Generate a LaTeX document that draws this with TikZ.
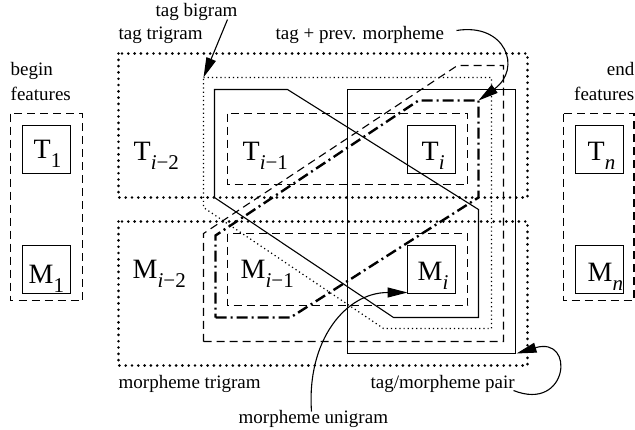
\documentclass[tikz,border=0pt]{standalone}
\usepackage{fontspec}
\setmainfont{Liberation Serif}
\usetikzlibrary{arrows.meta}
\newcommand\vsub[1]{\raisebox{-8.5pt}{\fontsize{21}{21}\selectfont #1}}
\begin{document}
\begin{tikzpicture}[x=1pt,y=-1pt,
  lab/.style={font=\fontsize{19}{21}\selectfont, inner sep=0pt, anchor=base west},
  labr/.style={font=\fontsize{19}{21}\selectfont, inner sep=0pt, anchor=base east},
  var/.style={font=\fontsize{28}{28}\selectfont, inner sep=0pt, anchor=base west},
  vbox/.style={draw, line width=1.1pt, minimum width=48pt, minimum height=48pt, inner sep=0pt},
  bigdot/.style={line width=2.9pt, line cap=round, dash pattern=on 0pt off 6.3pt},
  thindot/.style={line width=1.2pt, dash pattern=on 1.2pt off 3pt},
  dsh/.style={line width=1.1pt, dash pattern=on 8pt off 5pt},
  dshdot/.style={line width=2.4pt, dash pattern=on 11pt off 4pt on 2pt off 4pt},
  sld/.style={line width=1.1pt},
  arr/.style={line width=1.1pt, -{Triangle[length=20pt,width=10pt]}}]
\useasboundingbox (0,0) rectangle (635,429);
\begin{scope}[shift={(0.5,0.5)}]
% feature groups
\draw[dsh] (10,113) rectangle (82,300);
\draw[dsh] (563,113) rectangle (633.5,300);

% trigram boxes
\draw[bigdot] (118,53) rectangle (527,197);
\draw[bigdot] (118,221) rectangle (527,365);

% tag bigram
\draw[thindot] (203,77) -- (491,77) -- (491,328) -- (383,328) -- (203,207) -- cycle;
% solid polygon
\draw[sld] (214,89) -- (287,89) -- (478,209) -- (478,317) -- (393,317) -- (214,197) -- cycle;
% tag/morpheme pair
\draw[sld] (347,89) rectangle (515,353);
% dashed rectangles
\draw[dsh] (227,113) rectangle (467,184);
\draw[dsh] (227,233) rectangle (467,305);
% big dashed polygon
\draw[dsh] (203,341) -- (503,341) -- (503,65) -- (457,65) -- (203,233) -- cycle;
% dash-dot polygon
\draw[dshdot] (215,317) -- (290,317) -- (478,197) -- (478,100) -- (418,100) -- (215,235) -- cycle;

% boxes
\node[vbox] (bT1) at (46,149) {};
\node[vbox] (bM1) at (46,269) {};
\node[vbox] (bTi) at (431,149) {};
\node[vbox] (bMi) at (431,269) {};
\node[vbox] (bTn) at (599,149) {};
\node[vbox] (bMn) at (599,269) {};

% variables
\node[var] (T1) at (33,158) {T\vsub{1}};
\node[var] (M1) at (28,283) {M\vsub{1}};
\node[var] (Ti2) at (133,160) {T\vsub{\textit{i}−2}};
\node[var] (Mi2) at (132,278) {M\vsub{\textit{i}−2}};
\node[var] (Ti1) at (242,160) {T\vsub{\textit{i}−1}};
\node[var] (Mi1) at (240,278) {M\vsub{\textit{i}−1}};
\node[var] (Ti) at (421,160) {T\vsub{\textit{i}}};
\node[var] (Mi) at (417,280) {M\vsub{\textit{i}}};
\node[var] (Tn) at (587,160) {T\vsub{\textit{n}}};
\node[var] (Mn) at (587,281) {M\vsub{\textit{n}}};

% labels
\node[lab] (lbig) at (155,16) {tag bigram};
\node[lab] (ltri) at (118,39) {tag trigram};
\node[lab] (lprev) at (275,39) {tag + prev. morpheme};
\node[lab] (lbeg1) at (10,75) {begin};
\node[lab] (lbeg2) at (10,100) {features};
\node[labr] (lend1) at (634,75) {end};
\node[labr] (lend2) at (634,100) {features};
\node[lab] (lmtri) at (118,388) {morpheme trigram};
\node[lab] (lpair) at (370,388) {tag/morpheme pair};
\node[lab] (luni) at (238,423) {morpheme unigram};

% arrow ends
\coordinate (bgs) at (227,19);
\coordinate (bgt) at (203,77);
\coordinate (pvs) at (456,30);
\coordinate (pvt) at (478,100);
\coordinate (uns) at (311,411);
\coordinate (unt) at (407,292);
\coordinate (prs) at (513,390);
\coordinate (prt) at (516,353);

\draw[arr] (bgs) -- (bgt);
\draw[arr] (pvs) .. controls (505,22) and (522,68) .. (pvt);
\draw[arr] (uns) .. controls (306,340) and (345,292) .. (unt);
\draw[arr] (prs) .. controls (568,412) and (575,335) .. (prt);
\end{scope}
\end{tikzpicture}
\end{document}
